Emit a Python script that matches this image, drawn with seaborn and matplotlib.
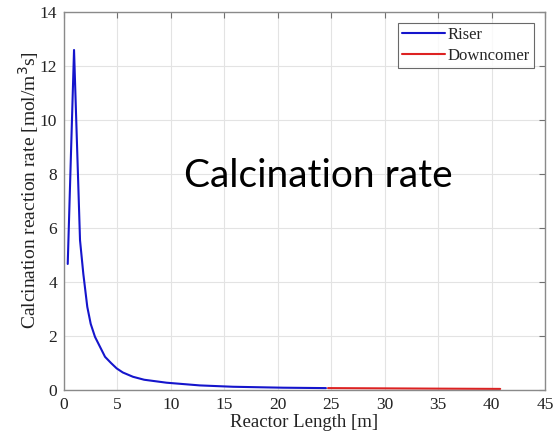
import numpy as np
import pandas as pd
import matplotlib
matplotlib.use("Agg")
import matplotlib.pyplot as plt
import seaborn as sns

# values
riser_len = [0.35, 0.94, 1.5, 1.81, 2.18, 2.5, 2.9, 3.37, 3.84, 4.4, 4.93, 5.5, 6.45, 7.5,
             9.6, 12.7, 15.8, 20.5, 24.5]
riser_rate = [4.67, 12.6, 5.55, 4.3, 3.08, 2.45, 1.97, 1.6, 1.23, 1.0, 0.8, 0.65, 0.49, 0.38,
              0.27, 0.17, 0.12, 0.085, 0.07]
down_len = [24.7, 30.0, 35.0, 40.8]
down_rate = [0.07, 0.06, 0.05, 0.04]

df_r = pd.DataFrame({"len": riser_len, "rate": riser_rate})
df_d = pd.DataFrame({"len": down_len, "rate": down_rate})

sns.set_style("whitegrid")
plt.rcParams["font.family"] = ["Liberation Serif", "DejaVu Serif"]

fig = plt.figure(figsize=(5.53, 4.45), dpi=100)
ax = fig.add_axes([0.1157, 0.1236, 0.870, 0.849])

sns.lineplot(data=df_r, x="len", y="rate", color="#1515cc", lw=1.5, label="Riser", ax=ax)
sns.lineplot(data=df_d, x="len", y="rate", color="#dd2222", lw=1.5, label="Downcomer", ax=ax)

ax.set_xlim(0, 45)
ax.set_ylim(0, 14)
ax.set_xticks(range(0, 46, 5))
ax.set_yticks(range(0, 15, 2))
ax.grid(True, color="#e3e3e3", lw=0.8)
for s in ax.spines.values():
    s.set_color("#8a8a8a")
    s.set_linewidth(1.0)
ax.tick_params(direction="in", top=True, right=True, length=4, color="#707070",
               labelsize=12.5, labelcolor="#222222", pad=5)
ax.set_xlabel("Reactor Length [m]", fontsize=13.5, color="#222222", labelpad=1)
ax.set_ylabel("Calcination reaction rate [mol/m$^3$s]", fontsize=14, color="#222222", labelpad=1)
ax.yaxis.set_label_coords(-0.048, 0.53)

leg = ax.legend(loc="upper right", fontsize=12, frameon=True, fancybox=False,
                handlelength=2.6, handletextpad=0.15, borderpad=0.25, labelspacing=0.3,
                borderaxespad=0.65)
leg.get_frame().set_edgecolor("#444444")
leg.get_frame().set_linewidth(0.8)

ax.text(0.528, 0.567, "Calcination rate", transform=ax.transAxes, ha="center", va="center",
        fontsize=28, family="Lato", color="black")

fig.savefig("out.png", dpi=100)
